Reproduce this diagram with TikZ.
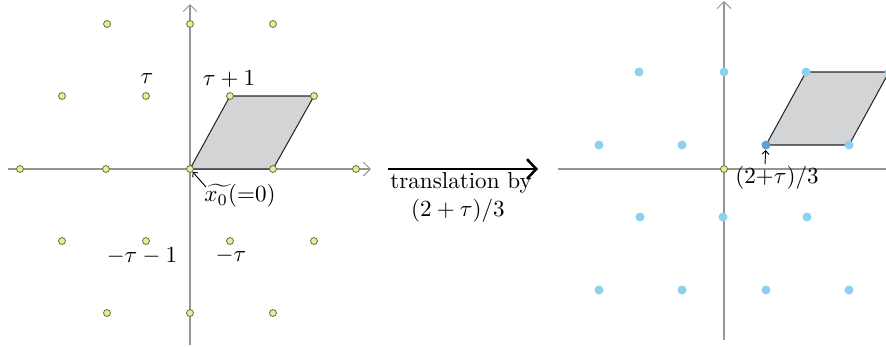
\documentclass[tikz,border=0pt]{standalone}
\usetikzlibrary{arrows.meta}
\definecolor{axisgray}{RGB}{150,150,150}
\definecolor{ydotfill}{RGB}{236,236,150}
\definecolor{ydotdraw}{RGB}{110,110,60}
\definecolor{bdot}{RGB}{140,210,238}
\definecolor{bdotdark}{RGB}{95,160,205}
\definecolor{pgram}{RGB}{211,212,214}
\begin{document}
\begin{tikzpicture}[x=0.433pt,y=-0.433pt,
  axis/.style={draw=axisgray,line width=0.45pt,-{Straight Barb[length=3pt,width=6pt]}},
  ydot/.style={circle,fill=ydotfill,draw=ydotdraw,line width=0.35pt,inner sep=0pt,minimum size=3pt},
  bdotst/.style={circle,fill=bdot,inner sep=0pt,minimum size=3.9pt},
  pgramst/.style={fill=pgram,draw=black!85,line width=0.45pt,line join=round},
  lbl/.style={inner sep=0pt,font=\normalsize},
  smallarrow/.style={draw=black,line width=0.4pt,-{Straight Barb[length=1.6pt,width=3pt]}},
  bigarrow/.style={draw=black,line width=1.1pt,-{Straight Barb[length=4pt,width=8.5pt]}}]
\useasboundingbox (0,0) rectangle (886,346);
\clip (0,0) rectangle (886,346);

% ---------- left panel ----------
\coordinate (LxL) at (8,169);
\coordinate (LxR) at (371,169);
\coordinate (LyB) at (190,345);
\coordinate (LyT) at (190,4);
\draw[axis] (LxL) -- (LxR);
\draw[axis] (LyB) -- (LyT);

\coordinate (L0) at (190,169);
\coordinate (L1) at (273,169);
\coordinate (Lt) at (230,96);
\coordinate (Lt1) at (314,96);
\filldraw[pgramst] (L0) -- (L1) -- (Lt1) -- (Lt) -- cycle;

\foreach \x/\y [count=\i] in {20/169,106/169,190/169,273/169,356/169,
  107/24,190/24,273/24,
  62/96,146/96,230/96,314/96,
  62/241,146/241,230/241,314/241,
  107/313,190/313,273/313}
  \node[ydot] (ld\i) at (\x,\y) {};

\node[lbl] (ltau) at (147,79) {$\tau$};
\node[lbl] (ltau1) at (229,79) {$\tau+1$};
\node[lbl] (lmt1) at (142,256) {$-\tau-1$};
\node[lbl] (lmt) at (231,256) {$-\tau$};
\node[lbl] (lx0) at (240,196) {$\widetilde{x_0\hphantom{i}}\!\!({=}0)$};
\coordinate (lx0a) at (206,187);
\draw[smallarrow] (lx0a) -- (ld3);

% ---------- middle arrow ----------
\coordinate (MA) at (388,169);
\coordinate (MB) at (538,169);
\draw[bigarrow] (MA) -- (MB);
\node[lbl] (mt1) at (461,183) {translation by};
\node[lbl] (mt2) at (458,211) {$(2+\tau)/3$};

% ---------- right panel ----------
\coordinate (RxL) at (558,169);
\coordinate (RxR) at (900,169);
\coordinate (RyB) at (724,340);
\coordinate (RyT) at (724,1);
\draw[axisgray,line width=0.45pt] (RxL) -- (RxR);
\draw[axis] (RyB) -- (RyT);

\coordinate (R0) at (766,145);
\coordinate (R1) at (849,145);
\coordinate (Rt) at (806,72);
\coordinate (Rt1) at (889,72);
\filldraw[pgramst] (R0) -- (R1) -- (Rt1) -- (Rt) -- cycle;

\foreach \x/\y [count=\i] in {639/72,724/72,806/72,889/72,
  599/145,682/145,849/145,
  640/217,723/217,807/217,
  599/290,682/290,766/290,849/290}
  \node[bdotst] (rd\i) at (\x,\y) {};
\node[bdotst,fill=bdotdark] (rdc) at (766,145) {};

\node[ydot] (rorig) at (724,169) {};
\node[lbl] (rlab) at (777,178) {$(2{+}\tau)/3$};
\coordinate (rlaba) at (765,164);
\draw[smallarrow] (rlaba) -- (rdc);
\end{tikzpicture}
\end{document}
